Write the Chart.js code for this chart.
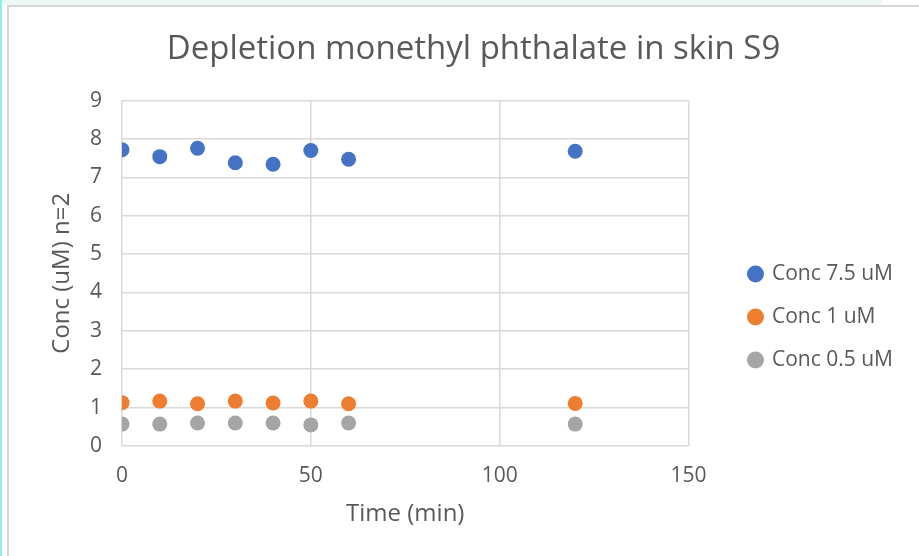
<!DOCTYPE html>
<html>
<head>
<meta charset="utf-8">
<script src="https://cdn.jsdelivr.net/npm/chart.js@4.4.0/dist/chart.umd.min.js"></script>
<style>
  html, body { margin: 0; padding: 0; background: #fff; }
  #wrap { position: relative; width: 919px; height: 556px; overflow: hidden; }
  .edgeLeft { position: absolute; left: 0; top: 0; width: 2px; height: 556px; background: #8ff0e6; }
  .edgeTop { position: absolute; left: 2px; top: 0; width: 880px; height: 5px; background: #eaf8f6; }
  .frame { position: absolute; left: 7px; top: 5px; width: 912px; height: 551px;
           border-top: 2px solid #d6d6d6; border-left: 2px solid #d6d6d6; box-sizing: border-box; }
  canvas { position: absolute; left: 0; top: 0; }
</style>
</head>
<body>
<div id="wrap">
  <div class="edgeLeft"></div>
  <div class="edgeTop"></div>
  <div class="frame"></div>
  <canvas id="chart" width="919" height="556"></canvas>
</div>
<script>
// Datos
const timeMin = [0, 10, 20, 30, 40, 50, 60, 120];
const conc75 = [7.72, 7.54, 7.76, 7.38, 7.34, 7.70, 7.47, 7.68];
const conc1 = [1.13, 1.17, 1.10, 1.17, 1.12, 1.17, 1.10, 1.11];
const conc05 = [0.57, 0.57, 0.60, 0.60, 0.60, 0.55, 0.60, 0.57];
const seriesNames = ['Conc 7.5 uM', 'Conc 1 uM', 'Conc 0.5 uM'];
const seriesColors = ['#4472C4', '#ED7D31', '#A5A5A5'];

const textColor = '#595959';
const gridColor = '#d9d9d9';
const fontFamily = '"Open Sans", "Noto Sans", sans-serif';

function toPoints(values) {
    return timeMin.map((t, i) => ({ x: t, y: values[i] }));
}

const allSeries = [conc75, conc1, conc05];

const ctx = document.getElementById('chart').getContext('2d');
new Chart(ctx, {
    type: 'scatter',
    data: {
        datasets: allSeries.map((vals, i) => ({
            label: seriesNames[i],
            data: toPoints(vals),
            backgroundColor: seriesColors[i],
            borderColor: seriesColors[i],
            pointRadius: 7.5,
            pointHoverRadius: 7.5,
            borderWidth: 0
        }))
    },
    options: {
        responsive: false,
        animation: false,
        layout: {
            padding: { top: 30, left: 44, right: 16, bottom: 27 }
        },
        plugins: {
            title: {
                display: true,
                text: 'Depletion monethyl phthalate in skin S9',
                color: textColor,
                font: { family: fontFamily, size: 33, weight: 'normal' },
                padding: { top: 0, bottom: 31 }
            },
            legend: {
                position: 'right',
                maxWidth: 300,
                // título vacío solo para bajar las entradas
                title: {
                    display: true,
                    text: ' ',
                    font: { size: 11 },
                    padding: { top: 0, bottom: 62 }
                },
                labels: {
                    usePointStyle: true,
                    pointStyle: 'circle',
                    boxHeight: 12,
                    boxWidth: 12,
                    padding: 22,
                    color: textColor,
                    font: { family: fontFamily, size: 21 }
                }
            },
            tooltip: { enabled: false }
        },
        scales: {
            x: {
                type: 'linear',
                min: 0,
                max: 150,
                afterFit: (scale) => { scale.height = 83; },
                ticks: {
                    stepSize: 50,
                    color: textColor,
                    padding: 17,
                    font: { family: fontFamily, size: 21 }
                },
                grid: { color: gridColor, lineWidth: 1.5, drawTicks: false },
                border: { display: false },
                title: {
                    display: true,
                    text: 'Time (min)',
                    color: textColor,
                    font: { family: fontFamily, size: 24 },
                    padding: { top: 12, bottom: 0 }
                }
            },
            y: {
                min: 0,
                max: 9,
                afterFit: (scale) => { scale.width = 78; },
                ticks: {
                    stepSize: 1,
                    color: textColor,
                    padding: 20,
                    font: { family: fontFamily, size: 21 }
                },
                grid: { color: gridColor, lineWidth: 1.5, drawTicks: false },
                border: { display: false },
                title: {
                    display: true,
                    text: 'Conc (uM) n=2',
                    color: textColor,
                    font: { family: fontFamily, size: 24 },
                    padding: { top: 4, bottom: 0 }
                }
            },
            // eje vacío: solo separa el área del gráfico de la leyenda
            gap: {
                type: 'linear',
                position: 'right',
                min: 0,
                max: 1,
                grid: { display: false },
                border: { display: false },
                ticks: { display: false },
                afterFit: (scale) => { scale.width = 39; }
            }
        }
    }
});
</script>
</body>
</html>
